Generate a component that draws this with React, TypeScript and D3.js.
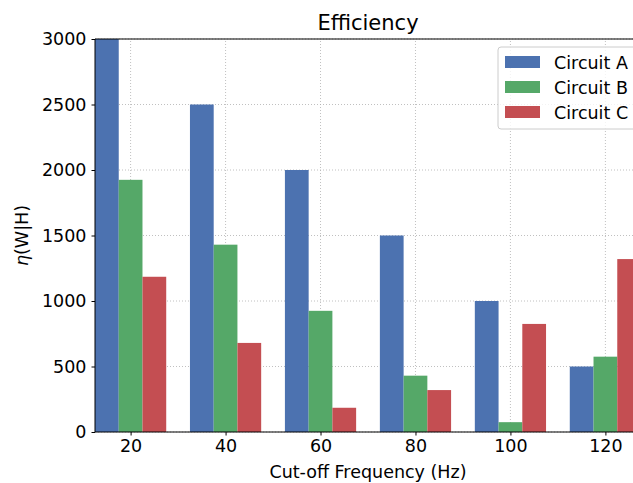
import React, { useEffect, useRef } from "react";
import * as d3 from "d3";

const categories = [20, 40, 60, 80, 100, 120];
const seriesNames = ["Circuit A", "Circuit B", "Circuit C"];
const circuitA = [3000, 2500, 2000, 1500, 1000, 500];
const circuitB = [1925, 1430, 925, 430, 75, 575];
const circuitC = [1185, 680, 185, 320, 825, 1320];
const yTicks = [0, 500, 1000, 1500, 2000, 2500, 3000];
const colors = ["#4C72B0", "#55A868", "#C44E52"];

const width = 633;
const height = 483;
const margin = { top: 39, left: 95, bottom: 51, right: -8 };
const barWidth = 5;
const font = "DejaVu Sans, sans-serif";
const fs = 17.5;

export default function App() {
  const ref = useRef<SVGSVGElement>(null);

  useEffect(() => {
    document.body.style.margin = "0";
    const svg = d3.select(ref.current);
    svg.selectAll("*").remove();

    const x = d3
      .scaleLinear()
      .domain([12.5, 127.5])
      .range([margin.left, width - margin.right]);
    const y = d3
      .scaleLinear()
      .domain([0, 3000])
      .range([height - margin.bottom, margin.top]);

    const g = svg.append("g");

    // grid
    g.selectAll(".gx")
      .data(categories)
      .join("line")
      .attr("x1", (d) => x(d))
      .attr("x2", (d) => x(d))
      .attr("y1", y(0))
      .attr("y2", y(3000))
      .attr("stroke", "#b0b0b0")
      .attr("stroke-width", 0.8)
      .attr("stroke-dasharray", "1,2");
    g.selectAll(".gy")
      .data(yTicks)
      .join("line")
      .attr("x1", x(12.5))
      .attr("x2", x(127.5))
      .attr("y1", (d) => y(d))
      .attr("y2", (d) => y(d))
      .attr("stroke", "#b0b0b0")
      .attr("stroke-width", 0.8)
      .attr("stroke-dasharray", "1,2");

    const series = [circuitA, circuitB, circuitC];
    series.forEach((vals, si) => {
      g.selectAll(".bar" + si)
        .data(vals)
        .join("rect")
        .attr("x", (d, i) => x(categories[i] + (si - 1) * barWidth - barWidth / 2))
        .attr("width", x(barWidth) - x(0))
        .attr("y", (d) => y(d))
        .attr("height", (d) => y(0) - y(d))
        .attr("fill", colors[si]);
    });

    // spines
    const spine = (x1: number, y1: number, x2: number, y2: number) =>
      g.append("line")
        .attr("x1", x1).attr("y1", y1).attr("x2", x2).attr("y2", y2)
        .attr("stroke", "#000").attr("stroke-width", 1);
    spine(x(12.5), y(0), x(127.5), y(0));
    spine(x(12.5), y(3000), x(127.5), y(3000));
    spine(x(12.5), y(0), x(12.5), y(3000));
    spine(x(127.5), y(0), x(127.5), y(3000));

    // axes
    const xAxis = g
      .append("g")
      .attr("transform", `translate(0,${y(0)})`)
      .call(d3.axisBottom(x).tickValues(categories).tickSize(3.5).tickPadding(4));
    const yAxis = g
      .append("g")
      .attr("transform", `translate(${x(12.5)},0)`)
      .call(
        d3.axisLeft(y).tickValues(yTicks).tickFormat(d3.format("d")).tickSize(3.5).tickPadding(5)
      );
    [xAxis, yAxis].forEach((a) => {
      a.select(".domain").remove();
      a.selectAll("text")
        .attr("font-family", font)
        .attr("font-size", fs)
        .attr("fill", "#000");
      a.selectAll("line").attr("stroke", "#000");
    });

    svg
      .append("text")
      .attr("x", (x(12.5) + x(127.5)) / 2)
      .attr("y", 30)
      .attr("text-anchor", "middle")
      .attr("font-family", font)
      .attr("font-size", 21)
      .text("Efficiency");

    svg
      .append("text")
      .attr("x", (x(12.5) + x(127.5)) / 2)
      .attr("y", 478)
      .attr("text-anchor", "middle")
      .attr("font-family", font)
      .attr("font-size", fs)
      .text("Cut-off Frequency (Hz)");

    const yl = svg
      .append("text")
      .attr("transform", `translate(28,${(y(0) + y(3000)) / 2}) rotate(-90)`)
      .attr("text-anchor", "middle")
      .attr("font-family", font)
      .attr("font-size", fs);
    yl.append("tspan").attr("font-style", "italic").text("η");
    yl.append("tspan").text("(W|H)");

    // legend
    const lg = svg.append("g").attr("transform", "translate(498,47)");
    lg.append("rect")
      .attr("width", 150)
      .attr("height", 82)
      .attr("rx", 3)
      .attr("fill", "#fff")
      .attr("fill-opacity", 0.8)
      .attr("stroke", "#ccc");
    seriesNames.forEach((name, i) => {
      lg.append("rect")
        .attr("x", 7)
        .attr("y", 9 + i * 25)
        .attr("width", 35)
        .attr("height", 12)
        .attr("fill", colors[i]);
      lg.append("text")
        .attr("x", 56)
        .attr("y", 22 + i * 25)
        .attr("font-family", font)
        .attr("font-size", fs)
        .text(name);
    });
  }, []);

  return <svg ref={ref} width={width} height={height} style={{ display: "block" }} />;
}
